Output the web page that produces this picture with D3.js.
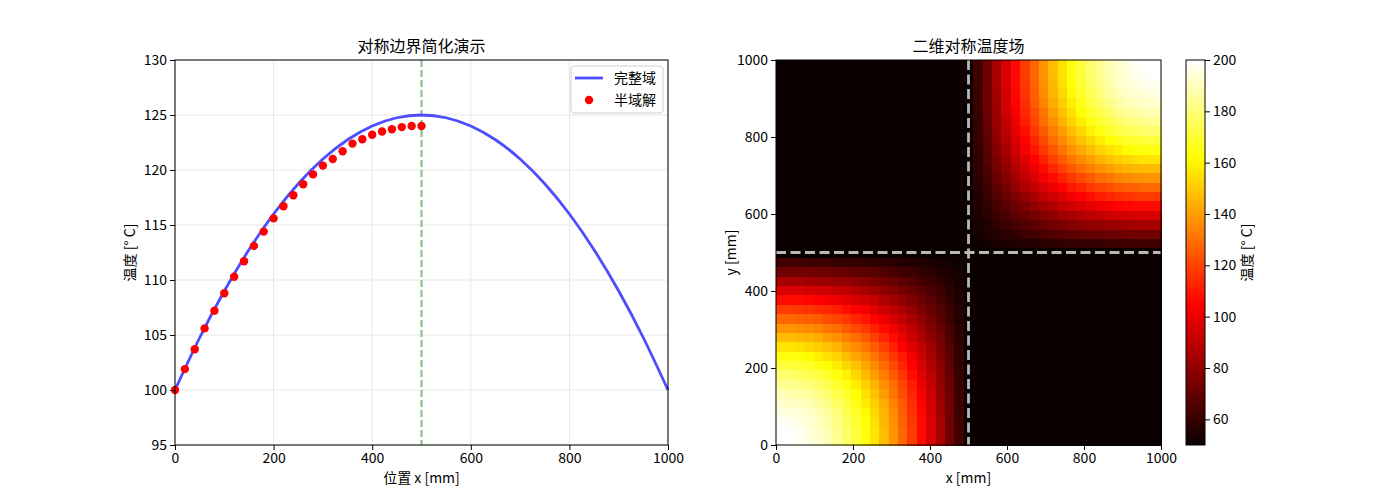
<!DOCTYPE html>
<html>
<head>
<meta charset="utf-8">
<script src="https://cdn.jsdelivr.net/npm/d3@7"></script>
<style>
  body { margin: 0; background: #fff; }
  svg text { font-family: "Noto Sans CJK SC", "DejaVu Sans", sans-serif; fill: #000; }
</style>
</head>
<body>
<svg id="canvas" width="1400" height="500"></svg>
<script>
// ---- data: left plot ----
var fullX = [0, 50, 100, 150, 200, 250, 300, 350, 400, 450, 500, 550, 600, 650, 700, 750, 800, 850, 900, 950, 1000];
var fullT = [100, 104.75, 109, 112.75, 116, 118.75, 121, 122.75, 124, 124.75, 125, 124.75, 124, 122.75, 121, 118.75, 116, 112.75, 109, 104.75, 100];
var halfX = [0, 20, 40, 60, 80, 100, 120, 140, 160, 180, 200, 220, 240, 260, 280, 300, 320, 340, 360, 380, 400, 420, 440, 460, 480, 500];
var halfT = [100, 101.9, 103.7, 105.6, 107.2, 108.8, 110.3, 111.7, 113.1, 114.4, 115.6, 116.7, 117.7, 118.7, 119.6, 120.4, 121.0, 121.7, 122.4, 122.8, 123.2, 123.5, 123.7, 123.9, 124.0, 124.0];
var leftXTicks = [0, 200, 400, 600, 800, 1000];
var leftYTicks = [95, 100, 105, 110, 115, 120, 125, 130];
var symLine = 500;

var nCells = 41;
var quadT = [
  [200,200,198,196,193,189,184,178,171,164,156,147,138,128,118,107,96,85,73,62,50],
  [200,199,198,195,192,188,183,178,171,164,156,147,138,128,118,107,96,85,73,62,50],
  [198,198,196,194,191,187,182,176,170,163,155,146,137,127,117,107,96,85,73,62,50],
  [196,195,194,192,189,185,180,174,168,161,153,145,136,126,116,106,95,84,73,61,50],
  [193,192,191,189,186,182,177,172,165,158,151,143,134,125,115,105,94,83,72,61,50],
  [189,188,187,185,182,178,173,168,162,155,148,140,131,122,113,103,93,82,72,61,50],
  [184,183,182,180,177,173,169,164,158,152,145,137,129,120,111,101,91,81,71,60,50],
  [178,178,176,174,172,168,164,159,153,147,140,133,125,117,108,99,90,80,70,60,50],
  [171,171,170,168,165,162,158,153,148,142,136,129,121,113,105,96,88,78,69,60,50],
  [164,164,163,161,158,155,152,147,142,137,131,124,117,110,102,94,85,77,68,59,50],
  [156,156,155,153,151,148,145,140,136,131,125,119,112,105,98,91,83,75,67,58,50],
  [147,147,146,145,143,140,137,133,129,124,119,113,107,101,94,87,80,73,65,58,50],
  [138,138,137,136,134,131,129,125,121,117,112,107,102,96,90,84,77,71,64,57,50],
  [128,128,127,126,125,122,120,117,113,110,105,101,96,91,86,80,74,68,62,56,50],
  [118,118,117,116,115,113,111,108,105,102,98,94,90,86,81,76,71,66,61,55,50],
  [107,107,107,106,105,103,101,99,96,94,91,87,84,80,76,72,68,63,59,55,50],
  [96,96,96,95,94,93,91,90,88,85,83,80,77,74,71,68,64,61,57,54,50],
  [85,85,85,84,83,82,81,80,78,77,75,73,71,68,66,63,61,58,55,53,50],
  [73,73,73,73,72,72,71,70,69,68,67,65,64,62,61,59,57,55,54,52,50],
  [62,62,62,61,61,61,60,60,60,59,58,58,57,56,55,55,54,53,52,51,50],
  [50,50,50,50,50,50,50,50,50,50,50,50,50,50,50,50,50,50,50,50,50]
];
var heatTicks = [0, 200, 400, 600, 800, 1000];
var cbarTicks = [60, 80, 100, 120, 140, 160, 180, 200];
var tMin = 50, tMax = 200;

// matplotlib "hot"
function hot(t) {
    t = Math.max(0, Math.min(1, t));
    var r = t < 0.365079 ? 0.0416 + (1 - 0.0416) * t / 0.365079 : 1;
    var g = t < 0.365079 ? 0 : (t < 0.746032 ? (t - 0.365079) / (0.746032 - 0.365079) : 1);
    var b = t < 0.746032 ? 0 : (t - 0.746032) / (1 - 0.746032);
    return d3.rgb(r * 255, g * 255, b * 255).toString();
}

var svg = d3.select('#canvas');
var tickFont = '14px';

// ================= left plot =================
var L = {x0: 175, x1: 668, y0: 60, y1: 445};
var lx = d3.scaleLinear().domain([0, 1000]).range([L.x0, L.x1]);
var ly = d3.scaleLinear().domain([95, 130]).range([L.y1, L.y0]);

var left = svg.append('g');

// grid
left.selectAll('line.gx').data(leftXTicks).enter().append('line')
    .attr('x1', function(d) { return lx(d); }).attr('x2', function(d) { return lx(d); })
    .attr('y1', L.y0).attr('y2', L.y1)
    .attr('stroke', '#e6e6e6').attr('stroke-width', 1);
left.selectAll('line.gy').data(leftYTicks).enter().append('line')
    .attr('y1', function(d) { return ly(d); }).attr('y2', function(d) { return ly(d); })
    .attr('x1', L.x0).attr('x2', L.x1)
    .attr('stroke', '#e6e6e6').attr('stroke-width', 1);

// symmetry line
left.append('line')
    .attr('x1', lx(symLine)).attr('x2', lx(symLine))
    .attr('y1', L.y0).attr('y2', L.y1)
    .attr('stroke', '#80bf80').attr('stroke-width', 2)
    .attr('stroke-dasharray', '7,3');

// full domain curve
var fullData = fullX.map(function(x, i) { return [x, fullT[i]]; });
left.append('path')
    .datum(fullData)
    .attr('d', d3.line().x(function(d) { return lx(d[0]); }).y(function(d) { return ly(d[1]); }).curve(d3.curveNatural))
    .attr('fill', 'none').attr('stroke', '#4d4dff').attr('stroke-width', 2.8);

// half domain dots
left.selectAll('circle.half').data(halfX).enter().append('circle')
    .attr('cx', function(d) { return lx(d); })
    .attr('cy', function(d, i) { return ly(halfT[i]); })
    .attr('r', 4.2)
    .attr('fill', '#ff0000');

// axes
left.append('g').attr('transform', 'translate(0,' + L.y1 + ')')
    .call(d3.axisBottom(lx).tickValues(leftXTicks).tickSize(5).tickPadding(3).tickFormat(d3.format('d')))
    .call(function(g) { g.select('.domain').remove(); g.selectAll('text').style('font-size', tickFont); });
left.append('g').attr('transform', 'translate(' + L.x0 + ',0)')
    .call(d3.axisLeft(ly).tickValues(leftYTicks).tickSize(5).tickPadding(3).tickFormat(d3.format('d')))
    .call(function(g) { g.select('.domain').remove(); g.selectAll('text').style('font-size', tickFont); });
left.append('rect')
    .attr('x', L.x0).attr('y', L.y0).attr('width', L.x1 - L.x0).attr('height', L.y1 - L.y0)
    .attr('fill', 'none').attr('stroke', '#000').attr('stroke-width', 1);

left.append('text').attr('x', (L.x0 + L.x1) / 2).attr('y', 52)
    .attr('text-anchor', 'middle').style('font-size', '16px').text('对称边界简化演示');
left.append('text').attr('x', (L.x0 + L.x1) / 2).attr('y', 483)
    .attr('text-anchor', 'middle').style('font-size', '14px').text('位置 x [mm]');
left.append('text').attr('transform', 'translate(135,' + ((L.y0 + L.y1) / 2) + ') rotate(-90)')
    .attr('text-anchor', 'middle').style('font-size', '14px').text('温度 [° C]');

// legend
var leg = left.append('g').attr('transform', 'translate(571,66)');
leg.append('rect').attr('width', 92).attr('height', 47).attr('rx', 3)
    .attr('fill', '#fff').attr('fill-opacity', 0.8).attr('stroke', '#d0d0d0');
leg.append('line').attr('x1', 4).attr('x2', 32).attr('y1', 12).attr('y2', 12)
    .attr('stroke', '#4d4dff').attr('stroke-width', 2.8);
leg.append('text').attr('x', 43).attr('y', 17).style('font-size', '14px').text('完整域');
leg.append('circle').attr('cx', 18).attr('cy', 34).attr('r', 4.2).attr('fill', '#ff0000');
leg.append('text').attr('x', 43).attr('y', 39).style('font-size', '14px').text('半域解');

// ================= heatmap =================
var H = {x0: 776, x1: 1161, y0: 60, y1: 445};
var idx = d3.range(nCells);
var bx = d3.scaleBand().domain(idx).range([H.x0, H.x1]);
var by = d3.scaleBand().domain(idx).range([H.y1, H.y0]);
var hx = d3.scaleLinear().domain([0, 1000]).range([H.x0, H.x1]);
var hy = d3.scaleLinear().domain([0, 1000]).range([H.y1, H.y0]);
var mid = (nCells - 1) / 2;

var cells = [];
idx.forEach(function(ky) {
    idx.forEach(function(kx) {
        var v;
        if (kx <= mid && ky <= mid) v = quadT[ky][kx];
        else if (kx >= mid && ky >= mid) v = quadT[nCells - 1 - ky][nCells - 1 - kx];
        else v = tMin;
        cells.push({kx: kx, ky: ky, v: v});
    });
});

var heat = svg.append('g');
heat.append('rect')
    .attr('x', H.x0).attr('y', H.y0).attr('width', H.x1 - H.x0).attr('height', H.y1 - H.y0)
    .attr('fill', hot(0));
heat.selectAll('rect.cell').data(cells).enter().append('rect')
    .attr('x', function(d) { return bx(d.kx); })
    .attr('y', function(d) { return by(d.ky); })
    .attr('width', bx.bandwidth() + 0.6)
    .attr('height', by.bandwidth() + 0.6)
    .attr('shape-rendering', 'crispEdges')
    .attr('fill', function(d) { return hot((d.v - tMin) / (tMax - tMin)); });

heat.append('line')
    .attr('x1', hx(symLine)).attr('x2', hx(symLine)).attr('y1', H.y0).attr('y2', H.y1)
    .attr('stroke', '#b8b8b8').attr('stroke-width', 2.8).attr('stroke-dasharray', '10,4.5');
heat.append('line')
    .attr('y1', hy(symLine)).attr('y2', hy(symLine)).attr('x1', H.x0).attr('x2', H.x1)
    .attr('stroke', '#b8b8b8').attr('stroke-width', 2.8).attr('stroke-dasharray', '10,4.5');

heat.append('g').attr('transform', 'translate(0,' + H.y1 + ')')
    .call(d3.axisBottom(hx).tickValues(heatTicks).tickSize(5).tickPadding(3).tickFormat(d3.format('d')))
    .call(function(g) { g.select('.domain').remove(); g.selectAll('text').style('font-size', tickFont); });
heat.append('g').attr('transform', 'translate(' + H.x0 + ',0)')
    .call(d3.axisLeft(hy).tickValues(heatTicks).tickSize(5).tickPadding(3).tickFormat(d3.format('d')))
    .call(function(g) { g.select('.domain').remove(); g.selectAll('text').style('font-size', tickFont); });
heat.append('rect')
    .attr('x', H.x0).attr('y', H.y0).attr('width', H.x1 - H.x0).attr('height', H.y1 - H.y0)
    .attr('fill', 'none').attr('stroke', '#000').attr('stroke-width', 1);

heat.append('text').attr('x', (H.x0 + H.x1) / 2).attr('y', 52)
    .attr('text-anchor', 'middle').style('font-size', '16px').text('二维对称温度场');
heat.append('text').attr('x', (H.x0 + H.x1) / 2).attr('y', 483)
    .attr('text-anchor', 'middle').style('font-size', '14px').text('x [mm]');
heat.append('text').attr('transform', 'translate(736,' + ((H.y0 + H.y1) / 2) + ') rotate(-90)')
    .attr('text-anchor', 'middle').style('font-size', '14px').text('y [mm]');

// ================= colorbar =================
var C = {x0: 1186, x1: 1205, y0: 60, y1: 445};
var cy = d3.scaleLinear().domain([tMin, tMax]).range([C.y1, C.y0]);
var grad = svg.append('defs').append('linearGradient')
    .attr('id', 'hotgrad').attr('x1', 0).attr('y1', 1).attr('x2', 0).attr('y2', 0);
[0, 0.365079, 0.746032, 1].forEach(function(s) {
    grad.append('stop').attr('offset', s).attr('stop-color', hot(s));
});
svg.append('rect')
    .attr('x', C.x0).attr('y', C.y0).attr('width', C.x1 - C.x0).attr('height', C.y1 - C.y0)
    .attr('fill', 'url(#hotgrad)').attr('stroke', '#000').attr('stroke-width', 1);
svg.append('g').attr('transform', 'translate(' + C.x1 + ',0)')
    .call(d3.axisRight(cy).tickValues(cbarTicks).tickSize(5).tickPadding(3).tickFormat(d3.format('d')))
    .call(function(g) { g.select('.domain').remove(); g.selectAll('text').style('font-size', tickFont); });
svg.append('text').attr('transform', 'translate(1252,' + ((C.y0 + C.y1) / 2) + ') rotate(-90)')
    .attr('text-anchor', 'middle').style('font-size', '14px').text('温度 [° C]');
</script>
</body>
</html>
